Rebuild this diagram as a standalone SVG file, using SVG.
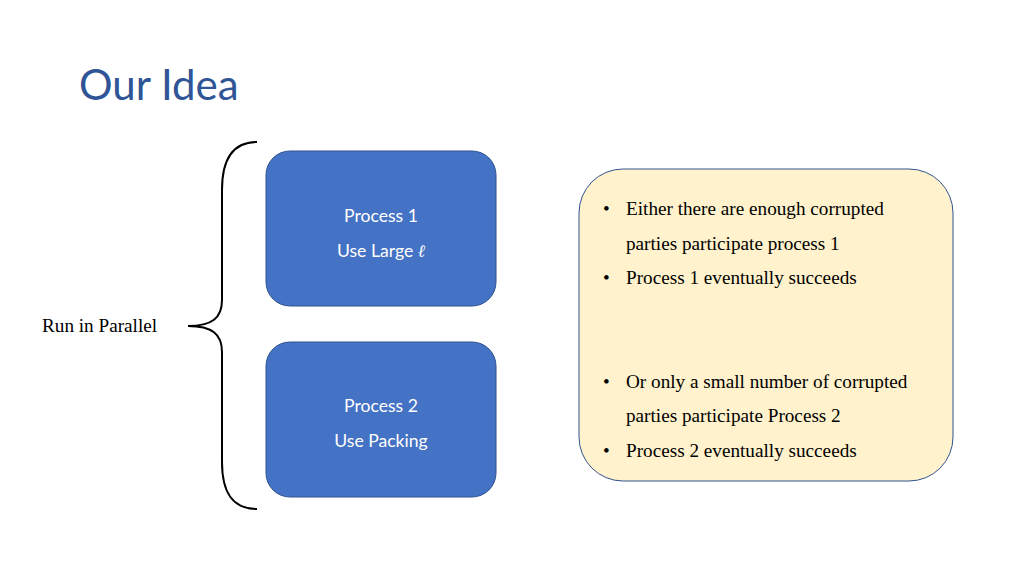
<svg xmlns="http://www.w3.org/2000/svg" width="1024" height="576" viewBox="0 0 1024 576">
<style>
.title{font-family:"Lato","Liberation Sans",sans-serif;font-size:42px;fill:#2F5597}
.proc{fill:#4472C4;stroke:#2F528F;stroke-width:1}
.pt{font-family:"Lato","Open Sans",sans-serif;font-size:17.6px;fill:#ffffff;text-anchor:middle}
.serif{font-family:"Liberation Serif",serif;font-size:19.2px;fill:#000}
.note{fill:#FFF2CC;stroke:#2F528F;stroke-width:1}
</style>
<rect width="1024" height="576" fill="#ffffff"/>
<text class="title" x="79" y="100">Our Idea</text>
<g id="brace">
<path d="M257,142 C232,142 222,160 222,190 L222,300 C222,318 212,326 188,326 C212,326 222,334 222,352 L222,462 C222,492 232,509 257,509" fill="none" stroke="#000" stroke-width="2"/>
</g>
<g id="label-run">
<text class="serif" x="42" y="332">Run in Parallel</text>
</g>
<g id="process1">
<rect class="proc" x="266" y="151" width="230" height="155" rx="24"/>
<text class="pt" x="381" y="222">Process 1</text>
<text class="pt" x="381" y="257">Use Large <tspan font-family="Liberation Serif,serif" font-style="italic">ℓ</tspan></text>
</g>
<g id="process2">
<rect class="proc" x="266" y="342" width="230" height="155" rx="24"/>
<text class="pt" x="381" y="412">Process 2</text>
<text class="pt" x="381" y="447">Use Packing</text>
</g>
<g id="outcome">
<rect class="note" x="579" y="169" width="374" height="312" rx="44"/>
<text class="serif" x="603" y="215">•</text>
<text class="serif" x="626" y="215">Either there are enough corrupted</text>
<text class="serif" x="626" y="250">parties participate process 1</text>
<text class="serif" x="603" y="284">•</text>
<text class="serif" x="626" y="284">Process 1 eventually succeeds</text>
<text class="serif" x="603" y="388">•</text>
<text class="serif" x="626" y="388">Or only a small number of corrupted</text>
<text class="serif" x="626" y="422">parties participate Process 2</text>
<text class="serif" x="603" y="457">•</text>
<text class="serif" x="626" y="457">Process 2 eventually succeeds</text>
</g>
<g id="connectors"></g>
</svg>
